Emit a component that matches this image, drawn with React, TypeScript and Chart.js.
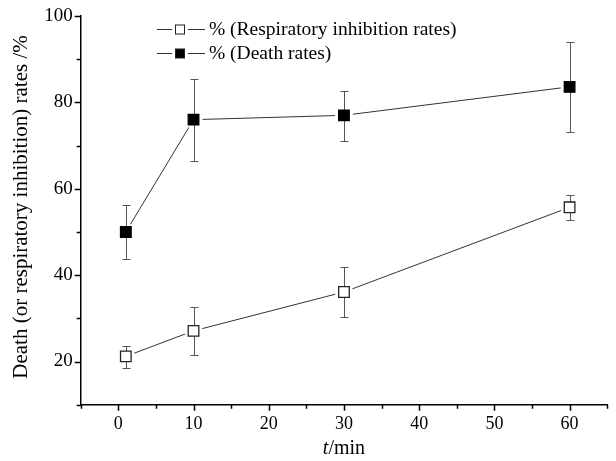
import { useEffect, useRef } from 'react';
import { Chart, registerables } from 'chart.js';

Chart.register(...registerables);

const FONT = '"Liberation Serif", "Times New Roman", serif';

// Data
const timeMin = [1, 10, 30, 60];
const respiratoryRate = [21.2, 27.1, 36.1, 55.7];
const respiratoryLow = [18.4, 21.4, 30.3, 52.8];
const respiratoryHigh = [23.7, 32.7, 41.9, 58.5];
const deathRate = [50, 76, 77, 83.6];
const deathLow = [43.7, 66.5, 71, 73.2];
const deathHigh = [56.2, 85.3, 82.6, 94];

const seriesLabels = ['% (Respiratory inhibition rates)', '% (Death rates)'];
const xTickLabels = [0, 10, 20, 30, 40, 50, 60];
const yTickLabels = [20, 40, 60, 80, 100];
const xMinorTicks = [-5, 5, 15, 25, 35, 45, 55, 65];
const yMinorTicks = [10, 30, 50, 70, 90];
const yTitle = 'Death (or respiratory inhibition) rates /%';

export default function App() {
  const ref = useRef<HTMLCanvasElement>(null);

  useEffect(() => {
    document.body.style.margin = '0';
    const canvas = ref.current;
    if (!canvas) return;

    const errorSets = [
      [respiratoryLow, respiratoryHigh],
      [deathLow, deathHigh],
    ];

    // connecting lines with small gaps near markers (Origin style) + error bars
    const errorBars = {
      id: 'errorBars',
      beforeDatasetsDraw(chart: any) {
        const { ctx, scales } = chart;
        const x = scales.x;
        const y = scales.y;
        ctx.save();
        ctx.strokeStyle = '#333';
        ctx.lineWidth = 1;
        chart.data.datasets.forEach((_: any, di: number) => {
          const pts = chart.getDatasetMeta(di).data;
          for (let i = 0; i < pts.length - 1; i++) {
            const a = pts[i];
            const b = pts[i + 1];
            const dx = b.x - a.x;
            const dy = b.y - a.y;
            const len = Math.hypot(dx, dy);
            const gap = 9;
            if (len <= gap * 2) continue;
            const ux = dx / len;
            const uy = dy / len;
            ctx.beginPath();
            ctx.moveTo(a.x + ux * gap, a.y + uy * gap);
            ctx.lineTo(b.x - ux * gap, b.y - uy * gap);
            ctx.stroke();
          }
        });

        ctx.strokeStyle = '#555';
        errorSets.forEach(([lo, hi]) => {
          timeMin.forEach((t, i) => {
            const px = Math.round(x.getPixelForValue(t)) + 0.5;
            const pl = Math.round(y.getPixelForValue(lo[i])) + 0.5;
            const ph = Math.round(y.getPixelForValue(hi[i])) + 0.5;
            ctx.beginPath();
            ctx.moveTo(px, pl);
            ctx.lineTo(px, ph);
            ctx.moveTo(px - 4, pl);
            ctx.lineTo(px + 4, pl);
            ctx.moveTo(px - 4, ph);
            ctx.lineTo(px + 4, ph);
            ctx.stroke();
          });
        });
        ctx.restore();
      },
    };

    const tickMarks = {
      id: 'tickMarks',
      afterDraw(chart: any) {
        const { ctx, scales, chartArea } = chart;
        const x = scales.x;
        const y = scales.y;
        ctx.save();
        ctx.strokeStyle = '#000';
        ctx.lineWidth = 1.5;
        ctx.beginPath();
        xTickLabels.forEach((v) => {
          const px = Math.round(x.getPixelForValue(v)) + 0.5;
          ctx.moveTo(px, chartArea.bottom);
          ctx.lineTo(px, chartArea.bottom + 6);
        });
        xMinorTicks.forEach((v) => {
          const px = Math.round(x.getPixelForValue(v)) + 0.5;
          ctx.moveTo(px, chartArea.bottom);
          ctx.lineTo(px, chartArea.bottom + 4);
        });
        yTickLabels.forEach((v) => {
          const py = Math.round(y.getPixelForValue(v)) + 0.5;
          ctx.moveTo(chartArea.left, py);
          ctx.lineTo(chartArea.left - 6, py);
        });
        yMinorTicks.forEach((v) => {
          const py = Math.round(y.getPixelForValue(v)) + 0.5;
          ctx.moveTo(chartArea.left, py);
          ctx.lineTo(chartArea.left - 4, py);
        });
        ctx.stroke();

        // axis titles
        ctx.fillStyle = '#000';
        ctx.save();
        ctx.translate(21, 207);
        ctx.rotate(-Math.PI / 2);
        ctx.font = `21px ${FONT}`;
        ctx.textAlign = 'center';
        ctx.textBaseline = 'middle';
        ctx.fillText(yTitle, 0, 0);
        ctx.restore();

        ctx.textBaseline = 'middle';
        ctx.textAlign = 'left';
        ctx.font = `italic 20px ${FONT}`;
        const tW = ctx.measureText('t').width;
        ctx.font = `20px ${FONT}`;
        const rW = ctx.measureText('/min').width;
        const cx = x.getPixelForValue(30);
        const start = cx - (tW + rW) / 2;
        ctx.font = `italic 20px ${FONT}`;
        ctx.fillText('t', start, 449);
        ctx.font = `20px ${FONT}`;
        ctx.fillText('/min', start + tW, 449);

        // legend
        const rows = [29, 53];
        chart.data.datasets.forEach((ds: any, i: number) => {
          const ry = rows[i] + 0.5;
          ctx.strokeStyle = '#333';
          ctx.lineWidth = 1;
          ctx.beginPath();
          ctx.moveTo(157, ry);
          ctx.lineTo(172, ry);
          ctx.moveTo(188, ry);
          ctx.lineTo(205, ry);
          ctx.stroke();
          ctx.fillStyle = ds.pointBackgroundColor;
          ctx.fillRect(175.5, ry - 4.5, 9, 9);
          ctx.strokeStyle = '#222';
          ctx.strokeRect(175.5, ry - 4.5, 9, 9);
          ctx.fillStyle = '#000';
          ctx.font = `19.5px ${FONT}`;
          ctx.textBaseline = 'middle';
          ctx.fillText(ds.label, 209, ry);
        });
        ctx.restore();
      },
    };

    const chart = new Chart(canvas, {
      type: 'line',
      data: {
        datasets: [
          {
            label: seriesLabels[0],
            data: timeMin.map((t, i) => ({ x: t, y: respiratoryRate[i] })),
            showLine: false,
            borderColor: '#333',
            borderWidth: 1,
            pointStyle: 'rect',
            pointRadius: 7.5,
            pointBorderWidth: 1.3,
            pointBackgroundColor: '#fff',
            pointBorderColor: '#222',
            fill: false,
          },
          {
            label: seriesLabels[1],
            data: timeMin.map((t, i) => ({ x: t, y: deathRate[i] })),
            showLine: false,
            borderColor: '#333',
            borderWidth: 1,
            pointStyle: 'rect',
            pointRadius: 7.5,
            pointBorderWidth: 1.3,
            pointBackgroundColor: '#000',
            pointBorderColor: '#000',
            fill: false,
          },
        ],
      },
      options: {
        responsive: false,
        animation: false,
        devicePixelRatio: 1,
        layout: { padding: { left: 0, right: 5.5, top: 16, bottom: 0 } },
        plugins: {
          legend: { display: false },
          tooltip: { enabled: false },
        },
        scales: {
          x: {
            type: 'linear',
            min: -5,
            max: 65,
            grid: { display: false, drawTicks: true, tickLength: 6 },
            border: { display: true, color: '#000', width: 1.5 },
            afterBuildTicks: (scale: any) => {
              scale.ticks = xTickLabels.map((v) => ({ value: v }));
            },
            afterFit: (scale: any) => {
              scale.height = 56.3;
            },
            ticks: {
              color: '#000',
              font: { family: FONT, size: 18 },
              padding: 3,
              maxRotation: 0,
              autoSkip: false,
            },
          },
          y: {
            type: 'linear',
            min: 10,
            max: 100,
            grid: { display: false, drawTicks: true, tickLength: 6 },
            border: { display: true, color: '#000', width: 1.5 },
            afterBuildTicks: (scale: any) => {
              scale.ticks = yTickLabels.map((v) => ({ value: v }));
            },
            afterFit: (scale: any) => {
              scale.width = 80.7;
            },
            ticks: {
              color: '#000',
              font: { family: FONT, size: 19 },
              padding: 2,
              autoSkip: false,
            },
          },
        },
      },
      plugins: [errorBars, tickMarks],
    });

    return () => chart.destroy();
  }, []);

  return <canvas ref={ref} width={616} height={461} style={{ display: 'block' }} />;
}
